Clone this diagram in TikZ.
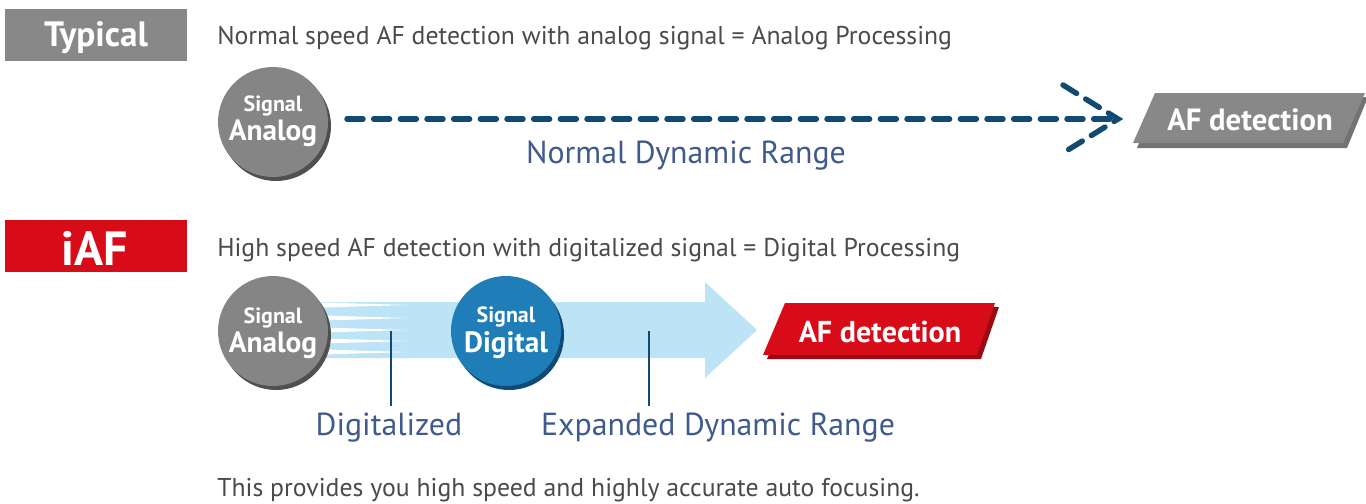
\documentclass[tikz,border=0pt]{standalone}
\usepackage{fontspec}
\setmainfont{PT Sans}
\usetikzlibrary{calc}
\definecolor{boxgray}{HTML}{888888}
\definecolor{circgray}{HTML}{858585}
\definecolor{shadgray}{HTML}{505050}
\definecolor{iafred}{HTML}{D70C18}
\definecolor{darkred}{HTML}{9A0A12}
\definecolor{txtgray}{HTML}{4A4A4A}
\definecolor{lblue}{HTML}{3F5A8C}
\definecolor{dblue}{HTML}{124A72}
\definecolor{bandblue}{HTML}{BDE3F7}
\definecolor{digblue}{HTML}{1F7DB8}
\definecolor{digshad}{HTML}{104A78}
\tikzset{
  head/.style={font=\fontsize{19.3}{22}\selectfont, text=txtgray, anchor=west, inner sep=0},
  lbl/.style={font=\fontsize{23.9}{28}\selectfont, text=lblue, inner sep=0},
  sigtxt/.style={text=white, align=center, font=\bfseries, inner sep=0},
  dashline/.style={draw=dblue, line width=4.1pt, line cap=round, dash pattern=on 12pt off 8pt},
  vline/.style={draw=dblue, line width=1.5pt},
}
\newcommand{\sigcirc}[4]{%
  \fill[#3] ($(#1)+(3,4)$) circle (55);
  \fill[#4] (#1) circle (55);
}
\newcommand{\sigtext}[2]{\fontsize{16.5}{18}\selectfont #1\\[2pt]\fontsize{22}{24}\selectfont #2}
\begin{document}
\begin{tikzpicture}[x=0.75pt,y=-0.75pt]
\useasboundingbox (0,0) rectangle (1366,503);
% ---------- Typical row ----------
\fill[boxgray] (5,9) rectangle (187,61);
\node[font=\bfseries\fontsize{26.4}{30}\selectfont, text=white, inner sep=0] (typ) at (96,38) {Typical};
\node[head] (h1) at (217,38) {Normal speed AF detection with analog signal = Analog Processing};

\coordinate (c1) at (273,122);
\sigcirc{c1}{}{shadgray}{circgray}
\node[sigtxt] (a1) at ($(c1)+(0,-1)$) {\sigtext{Signal}{Analog}};

\coordinate (dstart) at (347,119);
\coordinate (dend) at (1118,119);
\draw[dashline] (dstart) -- (dend);
\draw[dashline] (1063,85) -- (dend) -- (1063,153);
\node[lbl] (ndr) at (686,156) {Normal Dynamic Range};

% gray AF detection
\fill[shadgray!80] (1158,97) -- (1368,97) -- (1347,148) -- (1137,148) -- cycle;
\fill[boxgray] (1155,93) -- (1365,93) -- (1343,143) -- (1133,143) -- cycle;
\node[font=\bfseries\fontsize{23}{26}\selectfont, text=white, inner sep=0] (af1) at (1250,120) {AF detection};

% ---------- iAF row ----------
\fill[iafred] (5,220) rectangle (187,272);
\node[font=\bfseries\fontsize{36}{40}\selectfont, text=white, inner sep=0] (iaf) at (95,248) {iAF};
\node[head] (h2) at (217,250) {High speed AF detection with digitalized signal = Digital Processing};

% light blue band arrow
\fill[bandblue] (300,302) -- (705,302) -- (705,282) -- (757,330) -- (705,378) -- (705,358) -- (300,358) -- cycle;
% white fan wedges
\foreach \yy in {305,318,330,341,352}{
  \fill[white] (320,\yy-2.6) -- (407,\yy) -- (320,\yy+2.6) -- cycle;
}
\coordinate (c2) at (273,331);
\sigcirc{c2}{}{shadgray}{circgray}
\node[sigtxt] (a2) at ($(c2)+(0,2)$) {\sigtext{Signal}{Analog}};

\coordinate (c3) at (506,331);
\sigcirc{c3}{}{digshad}{digblue}
\node[sigtxt] (d1) at ($(c3)+(0,2)$) {\sigtext{Signal}{Digital}};

\node[lbl] (dig) at (389,428) {Digitalized};
\node[lbl] (edr) at (718,428) {Expanded Dynamic Range};
\coordinate (p1) at (391,331);
\coordinate (p2) at (649,331);
\draw[vline] (p1) -- (p1 |- 0,406);
\draw[vline] (p2) -- (p2 |- 0,406);

% red AF detection
\fill[darkred] (789,307) -- (999,307) -- (981,359) -- (767,359) -- cycle;
\fill[iafred] (785,303) -- (995,303) -- (977,355) -- (763,355) -- cycle;
\node[font=\bfseries\fontsize{22.6}{26}\selectfont, text=white, inner sep=0] (af2) at (880,332) {AF detection};

\node[head] (foot) at (217,490) {This provides you high speed and highly accurate auto focusing.};
\end{tikzpicture}
\end{document}
